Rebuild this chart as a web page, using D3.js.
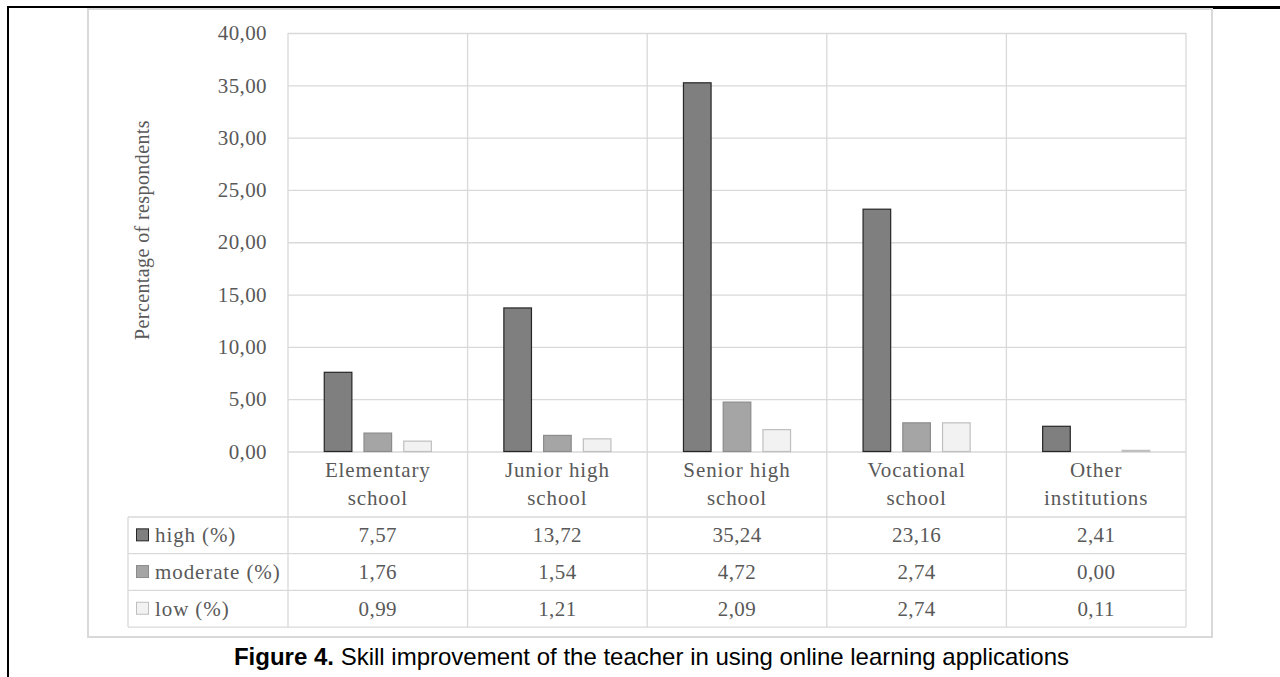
<!DOCTYPE html>
<html>
<head>
<meta charset="utf-8">
<script src="https://cdn.jsdelivr.net/npm/d3@7/dist/d3.min.js"></script>
<style>
  html, body { margin: 0; padding: 0; background: #fff; }
  svg { display: block; }
</style>
</head>
<body>
<svg id="chart" width="1280" height="677"></svg>
<script>
// Data: share of respondents by school level and degree of skill improvement
const categories = [
  ["Elementary", "school"],
  ["Junior high", "school"],
  ["Senior high", "school"],
  ["Vocational", "school"],
  ["Other", "institutions"]
];
const seriesNames = ["high (%)", "moderate (%)", "low (%)"];
const highValues = [7.57, 13.72, 35.24, 23.16, 2.41];
const moderateValues = [1.76, 1.54, 4.72, 2.74, 0.00];
const lowValues = [0.99, 1.21, 2.09, 2.74, 0.11];
const yTicks = [0, 5, 10, 15, 20, 25, 30, 35, 40];
const captionBold = "Figure 4.";
const captionText = " Skill improvement of the teacher in using online learning applications";

const seriesValues = [highValues, moderateValues, lowValues];
const seriesFill = ["#7f7f7f", "#a5a5a5", "#f2f2f2"];
const seriesStroke = ["#262626", "#8c8c8c", "#bfbfbf"];

const svg = d3.select("#chart");
const serif = "'Liberation Serif', 'Times New Roman', serif";
const textGray = "#595959";
const gridGray = "#d9d9d9";

// Decimal comma formatting
const locale = d3.formatLocale({ decimal: ",", thousands: ".", grouping: [3], currency: ["", ""] });
const fmt = locale.format(".2f");

// Page frame
svg.append("line").attr("x1", 8).attr("x2", 1213).attr("y1", 7).attr("y2", 7)
  .attr("stroke", "#000").attr("stroke-width", 2);
svg.append("line").attr("x1", 1212).attr("x2", 1280).attr("y1", 7.5).attr("y2", 7.5)
  .attr("stroke", "#000").attr("stroke-width", 3);
svg.append("line").attr("x1", 8).attr("x2", 8).attr("y1", 6).attr("y2", 677)
  .attr("stroke", "#000").attr("stroke-width", 2);

// Chart box
svg.append("rect").attr("x", 88).attr("y", 9).attr("width", 1124).attr("height", 628)
  .attr("fill", "#fff").attr("stroke", gridGray).attr("stroke-width", 2);

const plot = { left: 288, right: 1186, top: 33, bottom: 451.5 };
const table = { left: 128, top: 517, rowH: 36.7 };
const tableBottom = table.top + table.rowH * 3;

const x = d3.scaleBand().domain(d3.range(categories.length))
  .range([plot.left, plot.right]).paddingInner(0).paddingOuter(0);
const xs = d3.scaleBand().domain(d3.range(seriesNames.length))
  .range([0, x.bandwidth()]).paddingInner(0.28).paddingOuter(0.9);
const y = d3.scaleLinear().domain([0, 40]).range([plot.bottom, plot.top]);

// Y axis with horizontal gridlines
const yAxis = d3.axisLeft(y).tickValues(yTicks).tickFormat(fmt)
  .tickSizeInner(-(plot.right - plot.left)).tickSizeOuter(0).tickPadding(21);
const gy = svg.append("g").attr("transform", `translate(${plot.left},0)`).call(yAxis);
gy.select(".domain").remove();
gy.selectAll(".tick line").attr("stroke", gridGray).attr("stroke-width", 1.3);
gy.selectAll(".tick text")
  .attr("fill", textGray).attr("font-family", serif).attr("font-size", 21)
  .attr("letter-spacing", 0.4).attr("dy", "0.32em");

// Vertical category separators running down through the data table
const bounds = x.domain().map(d => x(d)).concat([plot.right]);
svg.append("g").selectAll("line").data(bounds).join("line")
  .attr("x1", d => d).attr("x2", d => d)
  .attr("y1", plot.top).attr("y2", tableBottom)
  .attr("stroke", gridGray).attr("stroke-width", 1.3);

// Table row lines
const rowLines = [0, 1, 2, 3].map(i => table.top + i * table.rowH);
svg.append("g").selectAll("line").data(rowLines).join("line")
  .attr("x1", table.left).attr("x2", plot.right)
  .attr("y1", d => d).attr("y2", d => d)
  .attr("stroke", gridGray).attr("stroke-width", 1.3);
svg.append("line").attr("x1", table.left).attr("x2", table.left)
  .attr("y1", table.top).attr("y2", tableBottom)
  .attr("stroke", gridGray).attr("stroke-width", 1.3);

// Bars
const bars = svg.append("g");
seriesValues.forEach((vals, s) => {
  bars.append("g").selectAll("rect").data(vals).join("rect")
    .attr("x", (d, i) => x(i) + xs(s) + 0.5)
    .attr("width", xs.bandwidth() - 1)
    .attr("y", d => y(d))
    .attr("height", d => Math.max(0, y(0) - y(d)))
    .attr("fill", seriesFill[s])
    .attr("stroke", d => d > 0 ? seriesStroke[s] : "none")
    .attr("stroke-width", 1.2);
});

// Category labels (two lines)
const catG = svg.append("g");
categories.forEach((lines, i) => {
  const t = catG.append("text")
    .attr("x", x(i) + x.bandwidth() / 2)
    .attr("text-anchor", "middle")
    .attr("fill", textGray).attr("font-family", serif).attr("font-size", 21)
    .attr("letter-spacing", 0.9);
  lines.forEach((ln, k) => {
    t.append("tspan").attr("x", x(i) + x.bandwidth() / 2)
      .attr("y", 477 + k * 28).text(ln);
  });
});

// Data table with legend keys
seriesNames.forEach((name, s) => {
  const cy = table.top + table.rowH * (s + 0.5);
  svg.append("rect").attr("x", 136.5).attr("y", cy - 6.5).attr("width", 12).attr("height", 12)
    .attr("fill", seriesFill[s]).attr("stroke", seriesStroke[s]).attr("stroke-width", 1);
  svg.append("text").attr("x", 155).attr("y", cy + 7)
    .attr("fill", textGray).attr("font-family", serif).attr("font-size", 21)
    .attr("letter-spacing", 0.9).text(name);
  svg.append("g").selectAll("text").data(seriesValues[s]).join("text")
    .attr("x", (d, i) => x(i) + x.bandwidth() / 2)
    .attr("y", cy + 7)
    .attr("text-anchor", "middle")
    .attr("fill", textGray).attr("font-family", serif).attr("font-size", 21)
    .attr("letter-spacing", 0.4)
    .text(d => fmt(d));
});

// Y axis title
svg.append("text")
  .attr("transform", `translate(149,${(120 + 340) / 2}) rotate(-90)`)
  .attr("text-anchor", "middle")
  .attr("fill", textGray).attr("font-family", serif).attr("font-size", 20)
  .attr("letter-spacing", 0.4)
  .text("Percentage of respondents");

// Caption
const cap = svg.append("text").attr("x", 651.5).attr("y", 665)
  .attr("text-anchor", "middle").attr("fill", "#000")
  .attr("font-family", "'Liberation Sans', Arial, sans-serif").attr("font-size", 24);
cap.append("tspan").attr("font-weight", "bold").text(captionBold);
cap.append("tspan").text(captionText);
</script>
</body>
</html>
